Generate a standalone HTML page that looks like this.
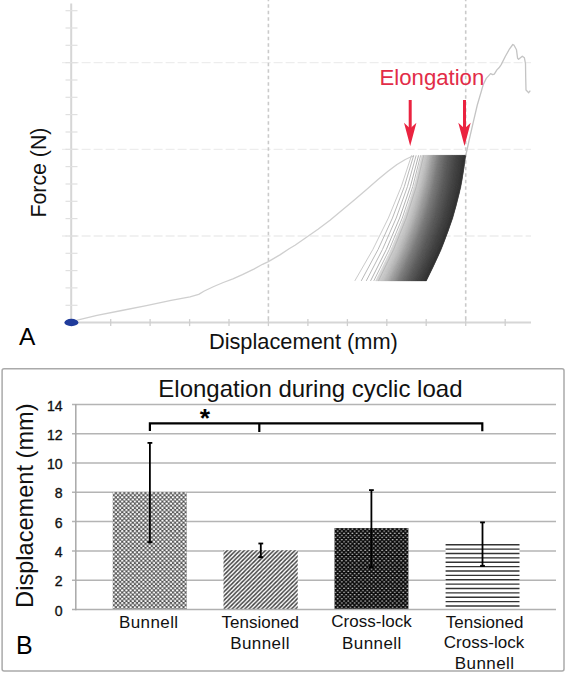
<!DOCTYPE html>
<html><head><meta charset="utf-8"><style>
html,body{margin:0;padding:0;background:#fff;width:567px;height:674px;overflow:hidden}
svg{display:block}
text{font-family:"Liberation Sans",sans-serif}
</style></head><body>
<svg width="567" height="674" viewBox="0 0 567 674">
<defs>
<pattern id="p1" width="4.23" height="4.23" patternUnits="userSpaceOnUse" x="112.7" y="492">
<rect width="4.23" height="4.23" fill="#505050"/>
<ellipse cx="1.06" cy="1.06" rx="1.2" ry="1.02" fill="#fff"/><ellipse cx="3.17" cy="3.17" rx="1.2" ry="1.02" fill="#fff"/><ellipse cx="1.06" cy="5.29" rx="1.2" ry="1.02" fill="#fff"/><ellipse cx="5.29" cy="1.06" rx="1.2" ry="1.02" fill="#fff"/><ellipse cx="-1.06" cy="3.17" rx="1.2" ry="1.02" fill="#fff"/><ellipse cx="3.17" cy="-1.06" rx="1.2" ry="1.02" fill="#fff"/>
</pattern>
<pattern id="p2" width="4.23" height="4.23" patternUnits="userSpaceOnUse" x="223.5" y="550">
<rect width="4.23" height="4.23" fill="#fff"/>
<path d="M-1,1 L1,-1 M0,4.23 L4.23,0 M3.23,5.23 L5.23,3.23" stroke="#404040" stroke-width="1.45"/>
</pattern>
<pattern id="p3" width="4.23" height="4.23" patternUnits="userSpaceOnUse" x="334.5" y="528">
<rect width="4.23" height="4.23" fill="#0c0c0c"/>
<ellipse cx="1.06" cy="1.06" rx="0.95" ry="0.6" fill="#d4d4d4"/><ellipse cx="3.17" cy="3.17" rx="0.95" ry="0.6" fill="#d4d4d4"/>
</pattern>
</defs>
<rect width="567" height="674" fill="#fff"/>

<line x1="62" y1="236.0" x2="531" y2="236.0" stroke="#ededed" stroke-width="1.3" stroke-dasharray="9 3" stroke-dashoffset="4.4"/>
<line x1="62" y1="149.3" x2="531" y2="149.3" stroke="#ededed" stroke-width="1.3" stroke-dasharray="9 3" stroke-dashoffset="4.4"/>
<line x1="62" y1="62.7" x2="531" y2="62.7" stroke="#ededed" stroke-width="1.3" stroke-dasharray="9 3" stroke-dashoffset="4.4"/>
<line x1="268.4" y1="-2.35" x2="268.4" y2="322.6" stroke="#cacaca" stroke-width="1.6" stroke-dasharray="3.5 3"/>
<line x1="465.7" y1="-2.35" x2="465.7" y2="322.6" stroke="#cacaca" stroke-width="1.6" stroke-dasharray="3.5 3"/>
<line x1="71.2" y1="3.5" x2="71.2" y2="322.6" stroke="#d6d6d6" stroke-width="2"/>
<line x1="71.2" y1="322.6" x2="531" y2="322.6" stroke="#d6d6d6" stroke-width="2"/>
<line x1="65.5" y1="305.3" x2="77.5" y2="305.3" stroke="#e0e0e0" stroke-width="1.2"/>
<line x1="65.5" y1="287.9" x2="77.5" y2="287.9" stroke="#e0e0e0" stroke-width="1.2"/>
<line x1="65.5" y1="270.6" x2="77.5" y2="270.6" stroke="#e0e0e0" stroke-width="1.2"/>
<line x1="65.5" y1="253.3" x2="77.5" y2="253.3" stroke="#e0e0e0" stroke-width="1.2"/>
<line x1="65.5" y1="236.0" x2="77.5" y2="236.0" stroke="#e0e0e0" stroke-width="1.2"/>
<line x1="65.5" y1="218.6" x2="77.5" y2="218.6" stroke="#e0e0e0" stroke-width="1.2"/>
<line x1="65.5" y1="201.3" x2="77.5" y2="201.3" stroke="#e0e0e0" stroke-width="1.2"/>
<line x1="65.5" y1="184.0" x2="77.5" y2="184.0" stroke="#e0e0e0" stroke-width="1.2"/>
<line x1="65.5" y1="166.6" x2="77.5" y2="166.6" stroke="#e0e0e0" stroke-width="1.2"/>
<line x1="65.5" y1="149.3" x2="77.5" y2="149.3" stroke="#e0e0e0" stroke-width="1.2"/>
<line x1="65.5" y1="132.0" x2="77.5" y2="132.0" stroke="#e0e0e0" stroke-width="1.2"/>
<line x1="65.5" y1="114.6" x2="77.5" y2="114.6" stroke="#e0e0e0" stroke-width="1.2"/>
<line x1="65.5" y1="97.3" x2="77.5" y2="97.3" stroke="#e0e0e0" stroke-width="1.2"/>
<line x1="65.5" y1="80.0" x2="77.5" y2="80.0" stroke="#e0e0e0" stroke-width="1.2"/>
<line x1="65.5" y1="62.7" x2="77.5" y2="62.7" stroke="#e0e0e0" stroke-width="1.2"/>
<line x1="65.5" y1="45.3" x2="77.5" y2="45.3" stroke="#e0e0e0" stroke-width="1.2"/>
<line x1="65.5" y1="28.0" x2="77.5" y2="28.0" stroke="#e0e0e0" stroke-width="1.2"/>
<line x1="65.5" y1="10.7" x2="77.5" y2="10.7" stroke="#e0e0e0" stroke-width="1.2"/>
<line x1="110.7" y1="319.1" x2="110.7" y2="326.1" stroke="#cfcfcf" stroke-width="1.3"/>
<line x1="150.1" y1="319.1" x2="150.1" y2="326.1" stroke="#cfcfcf" stroke-width="1.3"/>
<line x1="189.6" y1="319.1" x2="189.6" y2="326.1" stroke="#cfcfcf" stroke-width="1.3"/>
<line x1="229.0" y1="319.1" x2="229.0" y2="326.1" stroke="#cfcfcf" stroke-width="1.3"/>
<line x1="268.4" y1="319.1" x2="268.4" y2="326.1" stroke="#cfcfcf" stroke-width="1.3"/>
<line x1="307.9" y1="319.1" x2="307.9" y2="326.1" stroke="#cfcfcf" stroke-width="1.3"/>
<line x1="347.4" y1="319.1" x2="347.4" y2="326.1" stroke="#cfcfcf" stroke-width="1.3"/>
<line x1="386.8" y1="319.1" x2="386.8" y2="326.1" stroke="#cfcfcf" stroke-width="1.3"/>
<line x1="426.2" y1="319.1" x2="426.2" y2="326.1" stroke="#cfcfcf" stroke-width="1.3"/>
<line x1="465.7" y1="319.1" x2="465.7" y2="326.1" stroke="#cfcfcf" stroke-width="1.3"/>
<line x1="505.2" y1="319.1" x2="505.2" y2="326.1" stroke="#cfcfcf" stroke-width="1.3"/>
<polyline fill="none" stroke="#cfcfcf" stroke-width="1.3" stroke-linejoin="round" points="71.4,322.5 77.3,320.1 97,315.4 121.7,310.5 146.4,305.6 171.1,300.4 190,296.8 198.7,294.4 204.3,291 213.8,286.5 223.3,282.5 232.9,278.9 242.4,274.6 253.8,269.1 262.6,264.3 268.4,261.6 280.3,254.6 289.1,248.8 295,245.3 304,239 318,229.3 330,220.3 342,210.3 354,200.2 366,190 378,179.6 388,171.3 397,164.5 405.3,159.5 410.6,157 414,155.8"/>
<path d="M375.56,280.90Q408.91,218.00 421.79,155.30L422.17,155.30Q409.41,218.00 376.13,280.90Z" fill="#d4d4d4" stroke="#d4d4d4" stroke-width="0.35"/>
<path d="M376.13,280.90Q409.41,218.00 422.17,155.30L422.55,155.30Q409.90,218.00 376.69,280.90Z" fill="#d3d3d3" stroke="#d3d3d3" stroke-width="0.35"/>
<path d="M376.69,280.90Q409.90,218.00 422.55,155.30L422.93,155.30Q410.40,218.00 377.26,280.90Z" fill="#d1d1d1" stroke="#d1d1d1" stroke-width="0.35"/>
<path d="M377.26,280.90Q410.40,218.00 422.93,155.30L423.32,155.30Q410.90,218.00 377.82,280.90Z" fill="#d0d0d0" stroke="#d0d0d0" stroke-width="0.35"/>
<path d="M377.82,280.90Q410.90,218.00 423.32,155.30L423.71,155.30Q411.40,218.00 378.39,280.90Z" fill="#cfcfcf" stroke="#cfcfcf" stroke-width="0.35"/>
<path d="M378.39,280.90Q411.40,218.00 423.71,155.30L424.10,155.30Q411.91,218.00 378.95,280.90Z" fill="#cdcdcd" stroke="#cdcdcd" stroke-width="0.35"/>
<path d="M378.95,280.90Q411.91,218.00 424.10,155.30L424.50,155.30Q412.42,218.00 379.52,280.90Z" fill="#cbcbcb" stroke="#cbcbcb" stroke-width="0.35"/>
<path d="M379.52,280.90Q412.42,218.00 424.50,155.30L424.89,155.30Q412.92,218.00 380.08,280.90Z" fill="#c9c9c9" stroke="#c9c9c9" stroke-width="0.35"/>
<path d="M380.08,280.90Q412.92,218.00 424.89,155.30L425.30,155.30Q413.43,218.00 380.65,280.90Z" fill="#c7c7c7" stroke="#c7c7c7" stroke-width="0.35"/>
<path d="M380.65,280.90Q413.43,218.00 425.30,155.30L425.70,155.30Q413.95,218.00 381.21,280.90Z" fill="#c5c5c5" stroke="#c5c5c5" stroke-width="0.35"/>
<path d="M381.21,280.90Q413.95,218.00 425.70,155.30L426.11,155.30Q414.46,218.00 381.78,280.90Z" fill="#c3c3c3" stroke="#c3c3c3" stroke-width="0.35"/>
<path d="M381.78,280.90Q414.46,218.00 426.11,155.30L426.52,155.30Q414.98,218.00 382.34,280.90Z" fill="#c1c1c1" stroke="#c1c1c1" stroke-width="0.35"/>
<path d="M382.34,280.90Q414.98,218.00 426.52,155.30L426.94,155.30Q415.50,218.00 382.91,280.90Z" fill="#c0c0c0" stroke="#c0c0c0" stroke-width="0.35"/>
<path d="M382.91,280.90Q415.50,218.00 426.94,155.30L427.36,155.30Q416.02,218.00 383.47,280.90Z" fill="#bebebe" stroke="#bebebe" stroke-width="0.35"/>
<path d="M383.47,280.90Q416.02,218.00 427.36,155.30L427.78,155.30Q416.54,218.00 384.04,280.90Z" fill="#bcbcbc" stroke="#bcbcbc" stroke-width="0.35"/>
<path d="M384.04,280.90Q416.54,218.00 427.78,155.30L428.20,155.30Q417.06,218.00 384.60,280.90Z" fill="#bababa" stroke="#bababa" stroke-width="0.35"/>
<path d="M384.60,280.90Q417.06,218.00 428.20,155.30L428.63,155.30Q417.59,218.00 385.17,280.90Z" fill="#b8b8b8" stroke="#b8b8b8" stroke-width="0.35"/>
<path d="M385.17,280.90Q417.59,218.00 428.63,155.30L429.05,155.30Q418.12,218.00 385.73,280.90Z" fill="#b5b5b5" stroke="#b5b5b5" stroke-width="0.35"/>
<path d="M385.73,280.90Q418.12,218.00 429.05,155.30L429.49,155.30Q418.65,218.00 386.30,280.90Z" fill="#b3b3b3" stroke="#b3b3b3" stroke-width="0.35"/>
<path d="M386.30,280.90Q418.65,218.00 429.49,155.30L429.92,155.30Q419.18,218.00 386.86,280.90Z" fill="#b0b0b0" stroke="#b0b0b0" stroke-width="0.35"/>
<path d="M386.86,280.90Q419.18,218.00 429.92,155.30L430.36,155.30Q419.71,218.00 387.43,280.90Z" fill="#adadad" stroke="#adadad" stroke-width="0.35"/>
<path d="M387.43,280.90Q419.71,218.00 430.36,155.30L430.80,155.30Q420.24,218.00 387.99,280.90Z" fill="#ababab" stroke="#ababab" stroke-width="0.35"/>
<path d="M387.99,280.90Q420.24,218.00 430.80,155.30L431.24,155.30Q420.78,218.00 388.56,280.90Z" fill="#a8a8a8" stroke="#a8a8a8" stroke-width="0.35"/>
<path d="M388.56,280.90Q420.78,218.00 431.24,155.30L431.68,155.30Q421.32,218.00 389.12,280.90Z" fill="#a5a5a5" stroke="#a5a5a5" stroke-width="0.35"/>
<path d="M389.12,280.90Q421.32,218.00 431.68,155.30L432.13,155.30Q421.85,218.00 389.69,280.90Z" fill="#a2a2a2" stroke="#a2a2a2" stroke-width="0.35"/>
<path d="M389.69,280.90Q421.85,218.00 432.13,155.30L432.58,155.30Q422.39,218.00 390.25,280.90Z" fill="#a0a0a0" stroke="#a0a0a0" stroke-width="0.35"/>
<path d="M390.25,280.90Q422.39,218.00 432.58,155.30L433.03,155.30Q422.94,218.00 390.81,280.90Z" fill="#9d9d9d" stroke="#9d9d9d" stroke-width="0.35"/>
<path d="M390.81,280.90Q422.94,218.00 433.03,155.30L433.49,155.30Q423.48,218.00 391.38,280.90Z" fill="#9a9a9a" stroke="#9a9a9a" stroke-width="0.35"/>
<path d="M391.38,280.90Q423.48,218.00 433.49,155.30L433.95,155.30Q424.02,218.00 391.94,280.90Z" fill="#989898" stroke="#989898" stroke-width="0.35"/>
<path d="M391.94,280.90Q424.02,218.00 433.95,155.30L434.41,155.30Q424.57,218.00 392.51,280.90Z" fill="#959595" stroke="#959595" stroke-width="0.35"/>
<path d="M392.51,280.90Q424.57,218.00 434.41,155.30L434.87,155.30Q425.12,218.00 393.07,280.90Z" fill="#929292" stroke="#929292" stroke-width="0.35"/>
<path d="M393.07,280.90Q425.12,218.00 434.87,155.30L435.33,155.30Q425.67,218.00 393.64,280.90Z" fill="#909090" stroke="#909090" stroke-width="0.35"/>
<path d="M393.64,280.90Q425.67,218.00 435.33,155.30L435.80,155.30Q426.22,218.00 394.20,280.90Z" fill="#8d8d8d" stroke="#8d8d8d" stroke-width="0.35"/>
<path d="M394.20,280.90Q426.22,218.00 435.80,155.30L436.27,155.30Q426.77,218.00 394.77,280.90Z" fill="#8a8a8a" stroke="#8a8a8a" stroke-width="0.35"/>
<path d="M394.77,280.90Q426.77,218.00 436.27,155.30L436.74,155.30Q427.32,218.00 395.33,280.90Z" fill="#878787" stroke="#878787" stroke-width="0.35"/>
<path d="M395.33,280.90Q427.32,218.00 436.74,155.30L437.22,155.30Q427.88,218.00 395.90,280.90Z" fill="#848484" stroke="#848484" stroke-width="0.35"/>
<path d="M395.90,280.90Q427.88,218.00 437.22,155.30L437.69,155.30Q428.43,218.00 396.46,280.90Z" fill="#828282" stroke="#828282" stroke-width="0.35"/>
<path d="M396.46,280.90Q428.43,218.00 437.69,155.30L438.17,155.30Q428.99,218.00 397.03,280.90Z" fill="#7f7f7f" stroke="#7f7f7f" stroke-width="0.35"/>
<path d="M397.03,280.90Q428.99,218.00 438.17,155.30L438.65,155.30Q429.55,218.00 397.59,280.90Z" fill="#7c7c7c" stroke="#7c7c7c" stroke-width="0.35"/>
<path d="M397.59,280.90Q429.55,218.00 438.65,155.30L439.14,155.30Q430.11,218.00 398.16,280.90Z" fill="#797979" stroke="#797979" stroke-width="0.35"/>
<path d="M398.16,280.90Q430.11,218.00 439.14,155.30L439.62,155.30Q430.67,218.00 398.72,280.90Z" fill="#777777" stroke="#777777" stroke-width="0.35"/>
<path d="M398.72,280.90Q430.67,218.00 439.62,155.30L440.11,155.30Q431.23,218.00 399.29,280.90Z" fill="#747474" stroke="#747474" stroke-width="0.35"/>
<path d="M399.29,280.90Q431.23,218.00 440.11,155.30L440.60,155.30Q431.79,218.00 399.85,280.90Z" fill="#727272" stroke="#727272" stroke-width="0.35"/>
<path d="M399.85,280.90Q431.79,218.00 440.60,155.30L441.09,155.30Q432.36,218.00 400.42,280.90Z" fill="#707070" stroke="#707070" stroke-width="0.35"/>
<path d="M400.42,280.90Q432.36,218.00 441.09,155.30L441.59,155.30Q432.93,218.00 400.98,280.90Z" fill="#6e6e6e" stroke="#6e6e6e" stroke-width="0.35"/>
<path d="M400.98,280.90Q432.93,218.00 441.59,155.30L442.08,155.30Q433.49,218.00 401.55,280.90Z" fill="#6c6c6c" stroke="#6c6c6c" stroke-width="0.35"/>
<path d="M401.55,280.90Q433.49,218.00 442.08,155.30L442.58,155.30Q434.06,218.00 402.11,280.90Z" fill="#6a6a6a" stroke="#6a6a6a" stroke-width="0.35"/>
<path d="M402.11,280.90Q434.06,218.00 442.58,155.30L443.08,155.30Q434.63,218.00 402.68,280.90Z" fill="#686868" stroke="#686868" stroke-width="0.35"/>
<path d="M402.68,280.90Q434.63,218.00 443.08,155.30L443.58,155.30Q435.20,218.00 403.24,280.90Z" fill="#666666" stroke="#666666" stroke-width="0.35"/>
<path d="M403.24,280.90Q435.20,218.00 443.58,155.30L444.09,155.30Q435.77,218.00 403.81,280.90Z" fill="#646464" stroke="#646464" stroke-width="0.35"/>
<path d="M403.81,280.90Q435.77,218.00 444.09,155.30L444.59,155.30Q436.35,218.00 404.37,280.90Z" fill="#626262" stroke="#626262" stroke-width="0.35"/>
<path d="M404.37,280.90Q436.35,218.00 444.59,155.30L445.10,155.30Q436.92,218.00 404.94,280.90Z" fill="#606060" stroke="#606060" stroke-width="0.35"/>
<path d="M404.94,280.90Q436.92,218.00 445.10,155.30L445.61,155.30Q437.50,218.00 405.50,280.90Z" fill="#5e5e5e" stroke="#5e5e5e" stroke-width="0.35"/>
<path d="M405.50,280.90Q437.50,218.00 445.61,155.30L446.12,155.30Q438.07,218.00 406.07,280.90Z" fill="#5c5c5c" stroke="#5c5c5c" stroke-width="0.35"/>
<path d="M406.07,280.90Q438.07,218.00 446.12,155.30L446.64,155.30Q438.65,218.00 406.63,280.90Z" fill="#5a5a5a" stroke="#5a5a5a" stroke-width="0.35"/>
<path d="M406.63,280.90Q438.65,218.00 446.64,155.30L447.16,155.30Q439.23,218.00 407.20,280.90Z" fill="#585858" stroke="#585858" stroke-width="0.35"/>
<path d="M407.20,280.90Q439.23,218.00 447.16,155.30L447.67,155.30Q439.81,218.00 407.76,280.90Z" fill="#565656" stroke="#565656" stroke-width="0.35"/>
<path d="M407.76,280.90Q439.81,218.00 447.67,155.30L448.19,155.30Q440.39,218.00 408.32,280.90Z" fill="#545454" stroke="#545454" stroke-width="0.35"/>
<path d="M408.32,280.90Q440.39,218.00 448.19,155.30L448.72,155.30Q440.97,218.00 408.89,280.90Z" fill="#525252" stroke="#525252" stroke-width="0.35"/>
<path d="M408.89,280.90Q440.97,218.00 448.72,155.30L449.24,155.30Q441.55,218.00 409.45,280.90Z" fill="#505050" stroke="#505050" stroke-width="0.35"/>
<path d="M409.45,280.90Q441.55,218.00 449.24,155.30L449.77,155.30Q442.14,218.00 410.02,280.90Z" fill="#4f4f4f" stroke="#4f4f4f" stroke-width="0.35"/>
<path d="M410.02,280.90Q442.14,218.00 449.77,155.30L450.30,155.30Q442.72,218.00 410.58,280.90Z" fill="#4d4d4d" stroke="#4d4d4d" stroke-width="0.35"/>
<path d="M410.58,280.90Q442.72,218.00 450.30,155.30L450.83,155.30Q443.31,218.00 411.15,280.90Z" fill="#4b4b4b" stroke="#4b4b4b" stroke-width="0.35"/>
<path d="M411.15,280.90Q443.31,218.00 450.83,155.30L451.36,155.30Q443.90,218.00 411.71,280.90Z" fill="#4a4a4a" stroke="#4a4a4a" stroke-width="0.35"/>
<path d="M411.71,280.90Q443.90,218.00 451.36,155.30L451.89,155.30Q444.49,218.00 412.28,280.90Z" fill="#484848" stroke="#484848" stroke-width="0.35"/>
<path d="M412.28,280.90Q444.49,218.00 451.89,155.30L452.43,155.30Q445.07,218.00 412.84,280.90Z" fill="#474747" stroke="#474747" stroke-width="0.35"/>
<path d="M412.84,280.90Q445.07,218.00 452.43,155.30L452.96,155.30Q445.66,218.00 413.41,280.90Z" fill="#454545" stroke="#454545" stroke-width="0.35"/>
<path d="M413.41,280.90Q445.66,218.00 452.96,155.30L453.50,155.30Q446.26,218.00 413.97,280.90Z" fill="#444444" stroke="#444444" stroke-width="0.35"/>
<path d="M413.97,280.90Q446.26,218.00 453.50,155.30L454.04,155.30Q446.85,218.00 414.54,280.90Z" fill="#424242" stroke="#424242" stroke-width="0.35"/>
<path d="M414.54,280.90Q446.85,218.00 454.04,155.30L454.59,155.30Q447.44,218.00 415.10,280.90Z" fill="#404040" stroke="#404040" stroke-width="0.35"/>
<path d="M415.10,280.90Q447.44,218.00 454.59,155.30L455.13,155.30Q448.04,218.00 415.67,280.90Z" fill="#3f3f3f" stroke="#3f3f3f" stroke-width="0.35"/>
<path d="M415.67,280.90Q448.04,218.00 455.13,155.30L455.68,155.30Q448.63,218.00 416.23,280.90Z" fill="#3d3d3d" stroke="#3d3d3d" stroke-width="0.35"/>
<path d="M416.23,280.90Q448.63,218.00 455.68,155.30L456.22,155.30Q449.23,218.00 416.80,280.90Z" fill="#3c3c3c" stroke="#3c3c3c" stroke-width="0.35"/>
<path d="M416.80,280.90Q449.23,218.00 456.22,155.30L456.77,155.30Q449.82,218.00 417.36,280.90Z" fill="#3a3a3a" stroke="#3a3a3a" stroke-width="0.35"/>
<path d="M417.36,280.90Q449.82,218.00 456.77,155.30L457.33,155.30Q450.42,218.00 417.93,280.90Z" fill="#383838" stroke="#383838" stroke-width="0.35"/>
<path d="M417.93,280.90Q450.42,218.00 457.33,155.30L457.88,155.30Q451.02,218.00 418.49,280.90Z" fill="#373737" stroke="#373737" stroke-width="0.35"/>
<path d="M418.49,280.90Q451.02,218.00 457.88,155.30L458.43,155.30Q451.62,218.00 419.06,280.90Z" fill="#363636" stroke="#363636" stroke-width="0.35"/>
<path d="M419.06,280.90Q451.62,218.00 458.43,155.30L458.99,155.30Q452.22,218.00 419.62,280.90Z" fill="#343434" stroke="#343434" stroke-width="0.35"/>
<path d="M419.62,280.90Q452.22,218.00 458.99,155.30L459.55,155.30Q452.82,218.00 420.19,280.90Z" fill="#333333" stroke="#333333" stroke-width="0.35"/>
<path d="M420.19,280.90Q452.82,218.00 459.55,155.30L460.11,155.30Q453.43,218.00 420.75,280.90Z" fill="#323232" stroke="#323232" stroke-width="0.35"/>
<path d="M420.75,280.90Q453.43,218.00 460.11,155.30L460.67,155.30Q454.03,218.00 421.32,280.90Z" fill="#303030" stroke="#303030" stroke-width="0.35"/>
<path d="M421.32,280.90Q454.03,218.00 460.67,155.30L461.23,155.30Q454.63,218.00 421.88,280.90Z" fill="#2f2f2f" stroke="#2f2f2f" stroke-width="0.35"/>
<path d="M421.88,280.90Q454.63,218.00 461.23,155.30L461.80,155.30Q455.24,218.00 422.45,280.90Z" fill="#2e2e2e" stroke="#2e2e2e" stroke-width="0.35"/>
<path d="M422.45,280.90Q455.24,218.00 461.80,155.30L462.37,155.30Q455.84,218.00 423.01,280.90Z" fill="#2d2d2d" stroke="#2d2d2d" stroke-width="0.35"/>
<path d="M423.01,280.90Q455.84,218.00 462.37,155.30L462.93,155.30Q456.45,218.00 423.58,280.90Z" fill="#2b2b2b" stroke="#2b2b2b" stroke-width="0.35"/>
<path d="M423.58,280.90Q456.45,218.00 462.93,155.30L463.50,155.30Q457.06,218.00 424.14,280.90Z" fill="#2a2a2a" stroke="#2a2a2a" stroke-width="0.35"/>
<path d="M424.14,280.90Q457.06,218.00 463.50,155.30L464.08,155.30Q457.67,218.00 424.71,280.90Z" fill="#292929" stroke="#292929" stroke-width="0.35"/>
<path d="M424.71,280.90Q457.67,218.00 464.08,155.30L464.65,155.30Q458.28,218.00 425.27,280.90Z" fill="#272727" stroke="#272727" stroke-width="0.35"/>
<path d="M425.27,280.90Q458.28,218.00 464.65,155.30L465.22,155.30Q458.89,218.00 425.84,280.90Z" fill="#262626" stroke="#262626" stroke-width="0.35"/>
<path d="M425.84,280.90Q458.89,218.00 465.22,155.30L465.80,155.30Q459.50,218.00 426.40,280.90Z" fill="#252525" stroke="#252525" stroke-width="0.35"/>
<path d="M354.80,280.90Q393.50,218.00 411.60,155.30" fill="none" stroke="#c4c4c4" stroke-width="0.9"/>
<path d="M361.24,280.90Q397.40,218.00 413.70,155.30" fill="none" stroke="#b0b0b0" stroke-width="0.9"/>
<path d="M366.26,280.90Q401.16,218.00 416.17,155.30" fill="none" stroke="#b0b0b0" stroke-width="0.9"/>
<path d="M370.55,280.90Q404.64,218.00 418.62,155.30" fill="none" stroke="#a8a8a8" stroke-width="0.9"/>
<path d="M373.77,280.90Q407.36,218.00 420.62,155.30" fill="none" stroke="#b0b0b0" stroke-width="0.9"/>
<path d="M378.43,280.90Q411.44,218.00 423.73,155.30" fill="none" stroke="#b4b4b4" stroke-width="0.9"/>
<polyline fill="none" stroke="#c4c4c4" stroke-width="1.3" stroke-linejoin="round" points="465.8,155.3 466.1,154 469.5,138.5 473.4,121.7 477.3,105 481.2,91.7 483.2,84.7 486.3,78.4 490.6,73.6 492.7,74.7 494.3,74.2 496.9,69.9 499,67.8 501.2,64.6 505.4,56.2 509.6,48.8 512.8,44.5 513.9,45 516.5,49.8 517.6,58.3 518.6,59.3 522.3,56.2 524.4,57.8 525.5,63.6 525.7,77.3 526,90 528.7,92.7 530.3,90.6"/>
<ellipse cx="71.4" cy="322.5" rx="7" ry="3.7" fill="#1f3b9b"/>
<line x1="410.2" y1="100" x2="410.2" y2="132" stroke="#ea2340" stroke-width="3"/><path d="M404.0,122.8 L410.2,128.5 L416.4,122.8 L410.2,146 Z" fill="#ea2340"/>
<line x1="464.5" y1="100" x2="464.5" y2="132" stroke="#ea2340" stroke-width="3"/><path d="M458.3,122.8 L464.5,128.5 L470.7,122.8 L464.5,146 Z" fill="#ea2340"/>
<text x="379.6" y="85.1" font-size="22.15" fill="#e22c48">Elongation</text>
<text x="208.9" y="349" font-size="21.8" fill="#111">Displacement (mm)</text>
<text transform="translate(46.3,217.5) rotate(-90)" font-size="21.3" fill="#111">Force (N)</text>
<text x="19" y="345.2" font-size="24.5" fill="#000">A</text>
<rect x="2.1" y="368.8" width="561.9" height="302.1" rx="2" fill="none" stroke="#aaaaaa" stroke-width="1.5"/>
<text x="158.3" y="397.4" font-size="24" fill="#111">Elongation during cyclic load</text>
<text x="62.6" y="615.6" font-size="14.1" text-anchor="end" fill="#111" stroke="#111" stroke-width="0.35">0</text>
<line x1="72" y1="580.2" x2="556" y2="580.2" stroke="#b4b4b4" stroke-width="1.5"/>
<text x="62.6" y="586.3" font-size="14.1" text-anchor="end" fill="#111" stroke="#111" stroke-width="0.35">2</text>
<line x1="72" y1="550.9" x2="556" y2="550.9" stroke="#b4b4b4" stroke-width="1.5"/>
<text x="62.6" y="557.0" font-size="14.1" text-anchor="end" fill="#111" stroke="#111" stroke-width="0.35">4</text>
<line x1="72" y1="521.6" x2="556" y2="521.6" stroke="#b4b4b4" stroke-width="1.5"/>
<text x="62.6" y="527.7" font-size="14.1" text-anchor="end" fill="#111" stroke="#111" stroke-width="0.35">6</text>
<line x1="72" y1="492.3" x2="556" y2="492.3" stroke="#b4b4b4" stroke-width="1.5"/>
<text x="62.6" y="498.4" font-size="14.1" text-anchor="end" fill="#111" stroke="#111" stroke-width="0.35">8</text>
<line x1="72" y1="463.0" x2="556" y2="463.0" stroke="#b4b4b4" stroke-width="1.5"/>
<text x="62.6" y="469.1" font-size="14.1" text-anchor="end" fill="#111" stroke="#111" stroke-width="0.35">10</text>
<line x1="72" y1="433.7" x2="556" y2="433.7" stroke="#b4b4b4" stroke-width="1.5"/>
<text x="62.6" y="439.8" font-size="14.1" text-anchor="end" fill="#111" stroke="#111" stroke-width="0.35">12</text>
<line x1="72" y1="404.4" x2="556" y2="404.4" stroke="#b4b4b4" stroke-width="1.5"/>
<text x="62.6" y="410.5" font-size="14.1" text-anchor="end" fill="#111" stroke="#111" stroke-width="0.35">14</text>
<rect x="112.7" y="492.3" width="74.1" height="117.2" fill="url(#p1)"/>
<rect x="223.5" y="550.3" width="74.2" height="59.2" fill="url(#p2)"/>
<rect x="334.5" y="528.1" width="73.9" height="81.4" fill="url(#p3)"/>
<rect x="445.6" y="544.3" width="73.9" height="65.2" fill="#fff"/>
<line x1="445.6" y1="544.80" x2="519.5" y2="544.80" stroke="#333" stroke-width="1.4"/>
<line x1="445.6" y1="549.17" x2="519.5" y2="549.17" stroke="#333" stroke-width="1.4"/>
<line x1="445.6" y1="553.54" x2="519.5" y2="553.54" stroke="#333" stroke-width="1.4"/>
<line x1="445.6" y1="557.91" x2="519.5" y2="557.91" stroke="#333" stroke-width="1.4"/>
<line x1="445.6" y1="562.28" x2="519.5" y2="562.28" stroke="#333" stroke-width="1.4"/>
<line x1="445.6" y1="566.65" x2="519.5" y2="566.65" stroke="#333" stroke-width="1.4"/>
<line x1="445.6" y1="571.02" x2="519.5" y2="571.02" stroke="#333" stroke-width="1.4"/>
<line x1="445.6" y1="575.39" x2="519.5" y2="575.39" stroke="#333" stroke-width="1.4"/>
<line x1="445.6" y1="579.76" x2="519.5" y2="579.76" stroke="#333" stroke-width="1.4"/>
<line x1="445.6" y1="584.13" x2="519.5" y2="584.13" stroke="#333" stroke-width="1.4"/>
<line x1="445.6" y1="588.50" x2="519.5" y2="588.50" stroke="#333" stroke-width="1.4"/>
<line x1="445.6" y1="592.87" x2="519.5" y2="592.87" stroke="#333" stroke-width="1.4"/>
<line x1="445.6" y1="597.24" x2="519.5" y2="597.24" stroke="#333" stroke-width="1.4"/>
<line x1="445.6" y1="601.61" x2="519.5" y2="601.61" stroke="#333" stroke-width="1.4"/>
<line x1="445.6" y1="605.98" x2="519.5" y2="605.98" stroke="#333" stroke-width="1.4"/>
<line x1="72" y1="609.5" x2="556" y2="609.5" stroke="#b0b0b0" stroke-width="1.5"/>
<line x1="75.8" y1="404" x2="75.8" y2="610.2" stroke="#a8a8a8" stroke-width="1.5"/>
<line x1="149.9" y1="442.9" x2="149.9" y2="542.2" stroke="#000" stroke-width="1.8"/>
<line x1="147.5" y1="442.9" x2="152.3" y2="442.9" stroke="#000" stroke-width="1.8"/>
<line x1="147.5" y1="542.2" x2="152.3" y2="542.2" stroke="#000" stroke-width="2"/>
<line x1="260.8" y1="543.5" x2="260.8" y2="557.2" stroke="#000" stroke-width="1.8"/>
<line x1="258.40000000000003" y1="543.5" x2="263.2" y2="543.5" stroke="#000" stroke-width="1.8"/>
<line x1="258.40000000000003" y1="557.2" x2="263.2" y2="557.2" stroke="#000" stroke-width="2"/>
<line x1="371.4" y1="490.1" x2="371.4" y2="567.2" stroke="#000" stroke-width="1.8"/>
<line x1="369.0" y1="490.1" x2="373.79999999999995" y2="490.1" stroke="#000" stroke-width="1.8"/>
<line x1="369.0" y1="567.2" x2="373.79999999999995" y2="567.2" stroke="#000" stroke-width="2"/>
<line x1="482.5" y1="522.4" x2="482.5" y2="565.9" stroke="#000" stroke-width="1.8"/>
<line x1="480.1" y1="522.4" x2="484.9" y2="522.4" stroke="#000" stroke-width="1.8"/>
<line x1="480.1" y1="565.9" x2="484.9" y2="565.9" stroke="#000" stroke-width="2"/>
<path d="M149.9,431 L149.9,423.4 L482.3,423.4 L482.3,431.2 M259.3,423.4 L259.3,432" fill="none" stroke="#000" stroke-width="2.2"/>
<text x="199.8" y="427.2" font-size="26.5" font-weight="bold" fill="#000">*</text>
<text x="148.71" y="628.2" font-size="17" text-anchor="middle" fill="#111" letter-spacing="0.42">Bunnell</text>
<text x="260.30" y="628.0" font-size="17" text-anchor="middle" fill="#111">Tensioned</text>
<text x="260.01" y="649.2" font-size="17" text-anchor="middle" fill="#111" letter-spacing="0.42">Bunnell</text>
<text x="371.50" y="627.4" font-size="17" text-anchor="middle" fill="#111">Cross-lock</text>
<text x="371.91" y="648.7" font-size="17" text-anchor="middle" fill="#111" letter-spacing="0.42">Bunnell</text>
<text x="484.60" y="627.9" font-size="17" text-anchor="middle" fill="#111">Tensioned</text>
<text x="484.00" y="648.3" font-size="17" text-anchor="middle" fill="#111">Cross-lock</text>
<text x="484.61" y="668.6" font-size="17" text-anchor="middle" fill="#111" letter-spacing="0.42">Bunnell</text>
<text transform="translate(32.7,607.9) rotate(-90)" font-size="23.6" fill="#111">Displacement (mm)</text>
<text x="16" y="654" font-size="25" fill="#000">B</text>
</svg></body></html>
